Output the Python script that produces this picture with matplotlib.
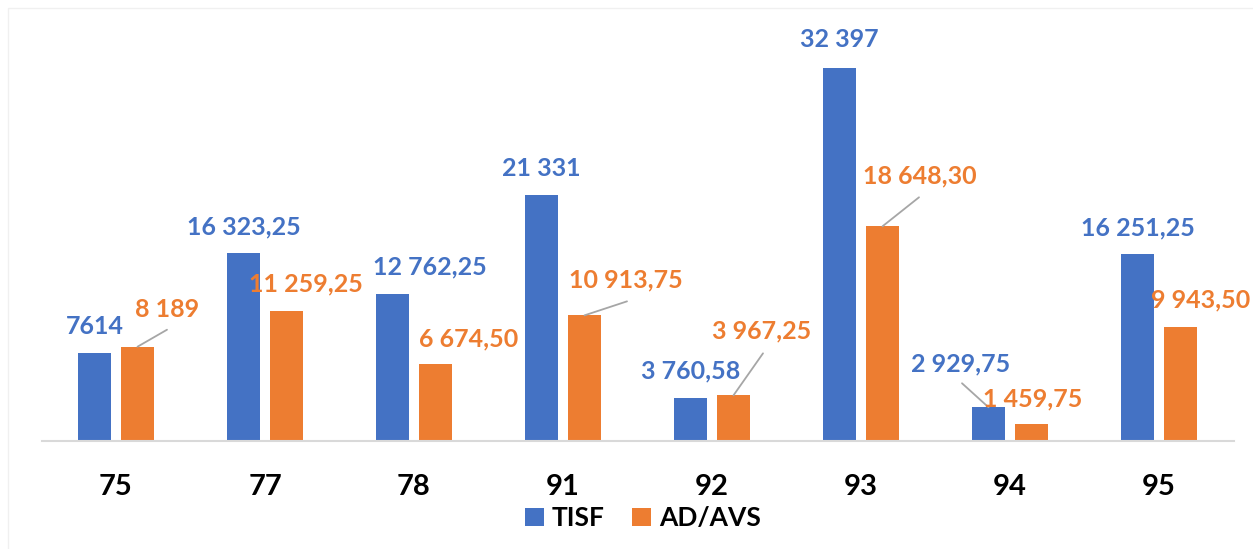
import matplotlib
matplotlib.use("Agg")
import matplotlib.pyplot as plt
from matplotlib.patches import Rectangle, Patch
import numpy as np

# ---- data ----
categories = ["75", "77", "78", "91", "92", "93", "94", "95"]
tisf = [7614, 16323.25, 12762.25, 21331, 3760.58, 32397, 2929.75, 16251.25]
ad_avs = [8189, 11259.25, 6674.50, 10913.75, 3967.25, 18648.30, 1459.75, 9943.50]
tisf_labels = ["7614", "16 323,25", "12 762,25", "21 331", "3 760,58",
               "32 397", "2 929,75", "16 251,25"]
ad_labels = ["8 189", "11 259,25", "6 674,50", "10 913,75", "3 967,25",
             "18 648,30", "1 459,75", "9 943,50"]
series_names = ["TISF", "AD/AVS"]

# ---- layout (pixel offsets of label centres relative to bar top, y up) ----
tisf_off = [(0, 28), (0, 28), (37.5, 29), (0, 28), (0, 28), (0, 30), (-27.5, 45), (0, 27)]
ad_off = [(30, 39), (19, 29), (33, 27), (41, 37), (28.5, 66), (37, 52), (1.5, 27), (20, 28)]
# leader lines: (series, index) -> end offset in pixels from bar top
leaders = {("ad", 0): (29.5, 17), ("ad", 3): (42.5, 14), ("ad", 4): (29.5, 42),
           ("ad", 5): (36.5, 29), ("tisf", 6): (-26.5, 24)}

BLUE = "#4472C4"
ORANGE = "#ED7D31"
FONT = ["Lato", "DejaVu Sans"]
plt.rcParams["font.family"] = FONT

W, H = 1253, 549
fig = plt.figure(figsize=(W / 100, H / 100), dpi=100)
fig.patch.set_facecolor("white")
# faint chart-area border
fig.patches.append(Rectangle((8 / W, -0.1), 1.2, (H - 8) / H + 0.1, transform=fig.transFigure,
                             fill=False, edgecolor="#f0f0f0", linewidth=1.0))

ax = fig.add_axes([41.5 / W, 108 / H, (1233.5 - 41.5) / W, 431 / H])
ax.set_xlim(-0.5, 7.5)
ax.set_ylim(0, 431 * 86.86)

x = np.arange(len(categories))
bw = 33 / 149
off = 21.5 / 149
ax.bar(x - off, tisf, width=bw, color=BLUE, zorder=2)
ax.bar(x + off, ad_avs, width=bw, color=ORANGE, zorder=2)

half_cap = 9
for name, xs, vals, labels, offs, col in [
        ("tisf", x - off, tisf, tisf_labels, tisf_off, BLUE),
        ("ad", x + off, ad_avs, ad_labels, ad_off, ORANGE)]:
    for i, (xi, v, lab, (dx, dy)) in enumerate(zip(xs, vals, labels, offs)):
        ax.annotate(lab, xy=(xi, v), xytext=(dx, dy - half_cap), textcoords="offset pixels",
                    ha="center", va="baseline", color=col, fontsize=18, fontweight="bold",
                    annotation_clip=False, zorder=4)
        if (name, i) in leaders:
            ex, ey = leaders[(name, i)]
            ax.annotate("", xy=(xi, v), xytext=(ex, ey), textcoords="offset pixels",
                        arrowprops=dict(arrowstyle="-", color="#a6a6a6", lw=1.3,
                                        shrinkA=0, shrinkB=0), zorder=3)

for s in ["top", "left", "right"]:
    ax.spines[s].set_visible(False)
ax.spines["bottom"].set_color("#d9d9d9")
ax.spines["bottom"].set_linewidth(1.5)
ax.set_yticks([])
ax.set_xticks(x)
ax.set_xticklabels(categories, fontsize=21, fontweight="bold", color="black", va="baseline")
ax.tick_params(axis="x", length=0, pad=54 * 0.72)
ax.set_facecolor("none")

handles = [Patch(facecolor=BLUE), Patch(facecolor=ORANGE)]
fig.legend(handles, series_names, loc="center", bbox_to_anchor=(643 / W, 1 - 518 / H),
           ncol=2, frameon=False, prop=dict(family=FONT, size=19, weight="bold"),
           handlelength=0.7, handleheight=0.7, handletextpad=0.3, columnspacing=1.05,
           borderaxespad=0, borderpad=0)

fig.savefig("out.png", dpi=100)
